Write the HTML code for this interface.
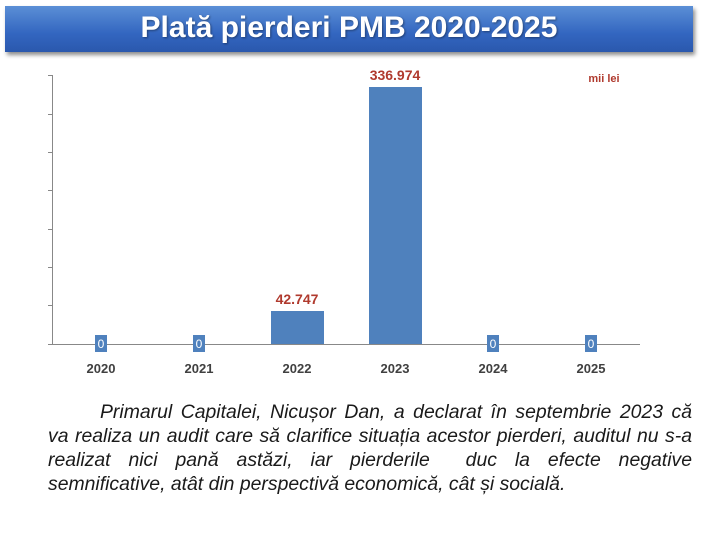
<!DOCTYPE html>
<html><head><meta charset="utf-8"><style>
body{margin:0;width:710px;height:538px;background:#fff;position:relative;font-family:"Liberation Sans",sans-serif;overflow:hidden}
.title{position:absolute;left:5px;top:6px;width:688px;height:46px;background:linear-gradient(#5b8fd6,#3366c0 60%,#2a58ad);box-shadow:2px 3px 4px rgba(0,0,0,.45);color:#fff;font-weight:bold;font-size:30px;text-align:center;line-height:44px;text-shadow:1px 1px 2px rgba(0,0,0,.4)}
.l{position:absolute;left:48px;width:644px;font-style:italic;font-size:19.4px;line-height:24px;text-align:justify;text-align-last:justify;color:#1a1a1a;white-space:nowrap}
</style></head><body>
<div class="title">Plată pierderi PMB 2020-2025</div>
<svg width="710" height="400" style="position:absolute;left:0;top:0" font-family="Liberation Sans,sans-serif">
<g stroke="#888" stroke-width="1">
<line x1="52.5" y1="75" x2="52.5" y2="344"/>
<line x1="48" y1="344.5" x2="640" y2="344.5"/>
<line x1="48" y1="75.5" x2="52" y2="75.5"/><line x1="48" y1="114.5" x2="52" y2="114.5"/>
<line x1="48" y1="152.5" x2="52" y2="152.5"/><line x1="48" y1="190.5" x2="52" y2="190.5"/>
<line x1="48" y1="229.5" x2="52" y2="229.5"/><line x1="48" y1="267.5" x2="52" y2="267.5"/>
<line x1="48" y1="305.5" x2="52" y2="305.5"/>
</g>
<rect x="271" y="311" width="53" height="33" fill="#4f81bd"/>
<rect x="369" y="87" width="53" height="257" fill="#4f81bd"/>
<g fill="#4f81bd"><rect x="95" y="335" width="12" height="17"/><rect x="193" y="335" width="12" height="17"/><rect x="487" y="335" width="12" height="17"/><rect x="585" y="335" width="12" height="17"/></g>
<g fill="#fff" font-size="12" text-anchor="middle"><text x="101" y="348">0</text><text x="199" y="348">0</text><text x="493" y="348">0</text><text x="591" y="348">0</text></g>
<g fill="#b03a2e" font-weight="bold" text-anchor="middle"><text x="297" y="304" font-size="14">42.747</text><text x="395" y="80" font-size="14">336.974</text><text x="604" y="82" font-size="11">mii lei</text></g>
<g fill="#404040" font-weight="bold" font-size="13" text-anchor="middle">
<text x="101" y="373">2020</text><text x="199" y="373">2021</text><text x="297" y="373">2022</text><text x="395" y="373">2023</text><text x="493" y="373">2024</text><text x="591" y="373">2025</text></g>
</svg>
<div class="l" style="top:400px;left:100px;width:592px">Primarul Capitalei, Nicușor Dan, a declarat în septembrie 2023 că</div>
<div class="l" style="top:424px">va realiza un audit care să clarifice situația acestor pierderi, auditul nu s-a</div>
<div class="l" style="top:448px">realizat nici pană astăzi, iar pierderile &nbsp;duc la efecte negative</div>
<div class="l" style="top:472px;text-align-last:left">semnificative, atât din perspectivă economică, cât și socială.</div>
</body></html>
